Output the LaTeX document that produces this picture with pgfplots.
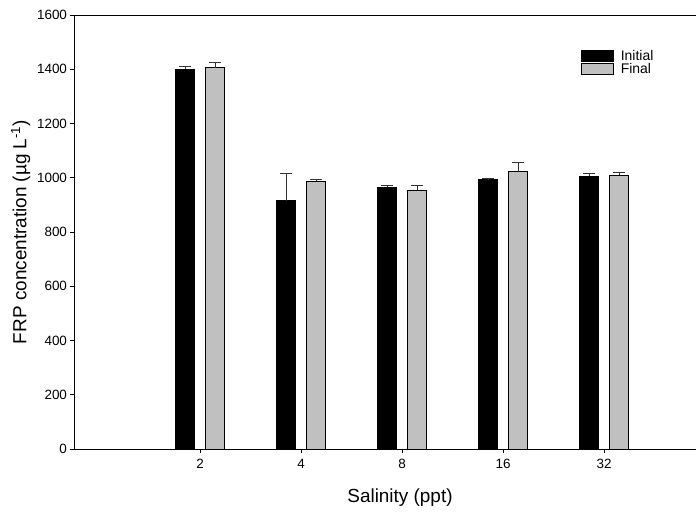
\documentclass[border=0pt]{standalone}
\usepackage{pgfplots}
\pgfplotsset{compat=1.18}
\usepackage{fontspec}
\setmainfont{Liberation Sans}
\usetikzlibrary{calc}
\definecolor{barGrey}{RGB}{192,192,192}

\begin{document}
\begin{tikzpicture}
  \begin{axis}[
    name=ax,
    scale only axis, width=622bp, height=434bp,
    xmin=-1.25, xmax=4.91, ymin=0, ymax=1600,
    axis x line*=box, axis y line*=left,
    xtick={0,1,2,3,4}, xticklabels={2,4,8,16,32},
    ytick={0,200,...,1600},
    xtick pos=bottom, ytick pos=left,
    tick align=outside, major tick length=4bp,
    every tick/.style={black, line width=0.8bp},
    axis line style={line width=0.8bp, black},
    /pgf/number format/assume math mode=true,
    yticklabel style={/pgf/number format/1000 sep={}, xshift=0.5bp},
    xticklabel style={yshift=-3bp},
    tick label style={font=\fontsize{13.5}{15}\selectfont},
    label style={font=\fontsize{19}{22}\selectfont},
    xlabel={Salinity (ppt)},
    xlabel style={yshift=-13bp, xshift=15bp},
    ylabel={FRP concentration (µg L\textsuperscript{-1})},
    ylabel style={yshift=0bp},
    ybar=11bp, bar width=19bp,
    legend style={draw=none, fill=none, at={(0.81,0.928)}, anchor=north west,
                  font=\fontsize{14}{15}\selectfont, row sep=-2.5bp,
                  /tikz/every odd column/.append style={column sep=5bp}},
    legend cell align=left,
    legend image code/.code={\draw[#1] (0bp,-5.5bp) rectangle (32bp,5.5bp);},
  ]
  \addplot+[draw=black, fill=black, line width=0.8bp,
    error bars/.cd, y dir=plus, y explicit,
    error bar style={line width=1bp, black!80},
    error mark options={rotate=90, mark size=6bp, line width=1bp, black!80}]
    coordinates {(0,1400) +- (0,10) (1,915) +- (0,100) (2,965) +- (0,8)
                 (3,993) +- (0,3) (4,1005) +- (0,10)};
  \addplot+[draw=black, fill=barGrey, line width=0.8bp,
    error bars/.cd, y dir=plus, y explicit,
    error bar style={line width=1bp, black!80},
    error mark options={rotate=90, mark size=6bp, line width=1bp, black!80}]
    coordinates {(0,1405) +- (0,20) (1,987) +- (0,7) (2,955) +- (0,18)
                 (3,1023) +- (0,35) (4,1010) +- (0,8)};
  \legend{Initial, Final}
  \end{axis}
  \pgfresetboundingbox
  \path[use as bounding box] ($(ax.south west)+(-74bp,-71bp)$) rectangle ($(ax.north east)+(0bp,15bp)$);
\end{tikzpicture}
\end{document}
